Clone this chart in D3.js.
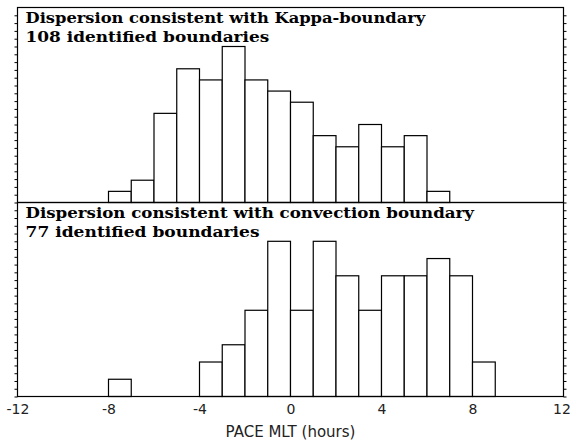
<!DOCTYPE html>
<html lang="en">
<head>
    <meta charset="UTF-8">
    <title>PACE MLT histograms</title>
    <script src="https://d3js.org/d3.v7.min.js"></script>
    <style>
        body { margin: 0; background: #fff; }
        .title { font-family: "DejaVu Serif", serif; font-weight: bold; font-size: 15px; }
        .xlab { font-family: "DejaVu Sans", sans-serif; font-size: 14px; fill: #222; }
    </style>
</head>
<body>
<svg width="571" height="441"></svg>
<script>
    // bin start hours, one-hour bins from -12 to 12
    const binStarts = d3.range(-12, 12);
    const kappaCounts = [0, 0, 0, 0, 1, 2, 8, 12, 11, 14, 11, 10, 9, 6, 5, 7, 5, 6, 1, 0, 0, 0, 0, 0];
    const convCounts  = [0, 0, 0, 0, 1, 0, 0, 0, 2, 3, 5, 9, 5, 9, 7, 5, 7, 7, 8, 7, 2, 0, 0, 0];
    const xTicks = [-12, -8, -4, 0, 4, 8, 12];
    const panelTitles = [
        ["Dispersion consistent with Kappa-boundary", "108 identified boundaries"],
        ["Dispersion consistent with convection boundary", "77 identified boundaries"]
    ];

    const svg = d3.select("svg");
    const left = 17.5, right = 563.5;
    const panels = [
        { counts: kappaCounts, top: 7.5, bottom: 202.5, titles: panelTitles[0] },
        { counts: convCounts, top: 202.5, bottom: 396.5, titles: panelTitles[1] }
    ];

    const x = d3.scaleLinear().domain([-12, 12]).range([left, right]);

    panels.forEach(p => {
        const ymax = d3.max(p.counts) * 1.25;
        const y = d3.scaleLinear().domain([0, ymax]).range([p.bottom, p.top]);
        const g = svg.append("g");

        const bins = binStarts.map((h, i) => ({ h: h, n: p.counts[i] })).filter(d => d.n > 0);
        g.selectAll("rect.bar")
            .data(bins)
            .join("rect")
            .attr("class", "bar")
            .attr("x", d => x(d.h))
            .attr("y", d => y(d.n))
            .attr("width", d => x(d.h + 1) - x(d.h))
            .attr("height", d => y(0) - y(d.n))
            .attr("fill", "#fff")
            .attr("stroke", "#000")
            .attr("stroke-width", 1.2);

        // minor ticks, no labels, on both sides
        const tv = d3.range(0, ymax, ymax / 25);
        g.append("g")
            .attr("transform", `translate(${left},0)`)
            .call(d3.axisLeft(y).tickValues(tv).tickSize(3).tickFormat(""))
            .call(a => a.select(".domain").remove());
        g.append("g")
            .attr("transform", `translate(${right},0)`)
            .call(d3.axisRight(y).tickValues(tv).tickSize(3).tickFormat(""))
            .call(a => a.select(".domain").remove());

        g.append("rect")
            .attr("x", left).attr("y", p.top)
            .attr("width", right - left).attr("height", p.bottom - p.top)
            .attr("fill", "none").attr("stroke", "#000").attr("stroke-width", 1.2);

        // monospaced-looking serif titles: fix width per character
        p.titles.forEach((t, i) => {
            g.append("text")
                .attr("class", "title")
                .attr("x", left + 8)
                .attr("y", p.top + 15.5 + i * 19)
                .attr("textLength", t.length * 9.75)
                .attr("lengthAdjust", "spacingAndGlyphs")
                .text(t);
        });
    });

    // x axis labels under the bottom panel
    const xa = svg.append("g")
        .attr("transform", `translate(0,${panels[1].bottom})`)
        .call(d3.axisBottom(x).tickValues(xTicks).tickSize(0).tickPadding(8).tickFormat(d => String(d)));
    xa.select(".domain").remove();
    xa.selectAll("text").attr("class", "xlab").attr("font-size", null).attr("font-family", null)
        .attr("dx", d => d === 12 ? -2 : 0);

    svg.append("text")
        .attr("class", "xlab")
        .attr("x", x(0))
        .attr("y", 437)
        .attr("text-anchor", "middle")
        .style("font-size", "15px")
        .text("PACE MLT (hours)");
</script>
</body>
</html>
